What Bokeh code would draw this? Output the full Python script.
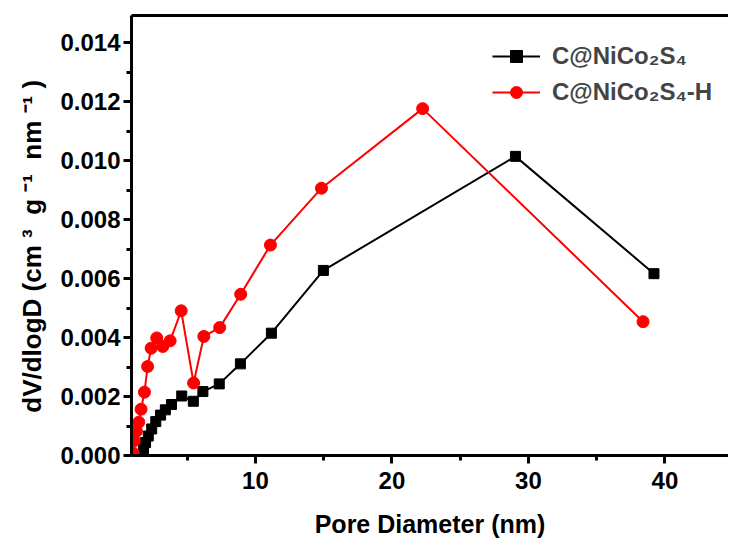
from bokeh.plotting import figure
from bokeh.models import Range1d, FixedTicker, PrintfTickFormatter, LinearAxis, Legend, LegendItem
from bokeh.embed import file_html
from bokeh.resources import INLINE

# ---- data ----
black_x = [1.65, 1.8, 1.95, 2.15, 2.4, 2.7, 3.05, 3.4, 3.85, 4.6, 5.45, 6.15, 7.35, 8.9, 11.17, 14.98, 29.05, 39.2]
black_y = [0.0000, 0.00022, 0.00044, 0.00066, 0.0009, 0.00115, 0.00137, 0.00155, 0.00173, 0.00202,
           0.00184, 0.00217, 0.00243, 0.00311, 0.00415, 0.00628, 0.01015, 0.00617]

red_x = [1.05, 1.12, 1.28, 1.45, 1.62, 1.87, 2.1, 2.36, 2.77, 3.21, 3.75, 4.56, 5.47, 6.22, 7.38,
         8.92, 11.1, 14.84, 22.25, 38.4]
red_y = [0.00008, 0.0005, 0.00082, 0.00113, 0.00157, 0.00215, 0.00302, 0.00364, 0.00399, 0.0037,
         0.00389, 0.00491, 0.00246, 0.00404, 0.00434, 0.00547, 0.00714, 0.00907, 0.01177, 0.00454]

series_labels = ["C@NiCo\u2082S\u2084", "C@NiCo\u2082S\u2084-H"]
x_major = [10, 20, 30, 40]
x_minor = [5, 15, 25, 35, 45]
y_major = [0.0, 0.002, 0.004, 0.006, 0.008, 0.010, 0.012, 0.014]
y_minor = [0.001, 0.003, 0.005, 0.007, 0.009, 0.011, 0.013]
x_title = "Pore Diameter (nm)"
NB = "\u00a0"
y_title = ("dV/dlogD (cm" + NB + "\u00b3" + NB * 2 + "g" + NB + "\u207b\u00b9" + NB * 2
           + "nm" + NB + "\u207b\u00b9" + NB + ")" + NB * 3)

FONT = "Liberation Sans"

p = figure(width=728, height=540, output_backend="svg", toolbar_location=None,
           x_range=Range1d(0.92, 44.66), y_range=Range1d(0.0, 0.01493))
p.min_border_left = 131
p.min_border_right = 0
p.min_border_top = 15
p.min_border_bottom = 83
p.outline_line_color = None
p.background_fill_color = "white"
p.border_fill_color = "white"
p.xgrid.visible = False
p.ygrid.visible = False

# series
bl = p.line(black_x, black_y, line_color="black", line_width=2)
bs = p.scatter(black_x, black_y, marker="square", size=10, fill_color="black", line_color="black")
rl = p.line(red_x, red_y, line_color="red", line_width=2)
rs = p.scatter(red_x, red_y, marker="circle", size=12, fill_color="red", line_color="red")

legend = Legend(items=[LegendItem(label=series_labels[0], renderers=[bl, bs]),
                       LegendItem(label=series_labels[1], renderers=[rl, rs])],
                location=(361, 348))
legend.border_line_color = None
legend.background_fill_alpha = 0
legend.label_text_font = FONT
legend.label_text_font_style = "bold"
legend.label_text_font_size = "24px"
legend.glyph_width = 48
legend.glyph_height = 30
legend.label_height = 30
legend.spacing = 6
legend.label_standoff = 12
legend.padding = 0
legend.margin = 0
p.add_layout(legend)

def style_axis(ax):
    ax.axis_line_width = 3
    ax.axis_line_color = "black"
    ax.major_tick_line_width = 3
    ax.minor_tick_line_width = 3
    ax.major_tick_line_color = "black"
    ax.minor_tick_line_color = "black"
    ax.major_label_text_font = FONT
    ax.major_label_text_font_style = "bold"
    ax.major_label_text_font_size = "24px"
    ax.major_label_text_color = "black"
    ax.axis_label_text_font = FONT
    ax.axis_label_text_font_style = "bold"
    ax.axis_label_text_font_size = "25px"
    ax.axis_label_text_color = "black"

xa = p.xaxis[0]
style_axis(xa)
xa.ticker = FixedTicker(ticks=x_major, minor_ticks=x_minor)
xa.major_tick_out = 8
xa.major_tick_in = 0
xa.minor_tick_out = 5
xa.minor_tick_in = 0
xa.major_label_standoff = 8
xa.axis_label = x_title
xa.axis_label_standoff = 18

ya = p.yaxis[0]
style_axis(ya)
ya.ticker = FixedTicker(ticks=y_major, minor_ticks=y_minor)
ya.formatter = PrintfTickFormatter(format="%.3f")
ya.major_tick_out = 8
ya.major_tick_in = 0
ya.minor_tick_out = 5
ya.minor_tick_in = 0
ya.major_label_standoff = 3
ya.axis_label = y_title
ya.axis_label_text_font_size = "26px"
ya.axis_label_standoff = 10

top = LinearAxis(ticker=FixedTicker(ticks=[], minor_ticks=[]))
style_axis(top)
top.major_tick_in = 0
top.major_tick_out = 0
top.minor_tick_in = 0
top.minor_tick_out = 0
p.add_layout(top, "above")

open("out.html", "w").write(file_html(p, INLINE))
